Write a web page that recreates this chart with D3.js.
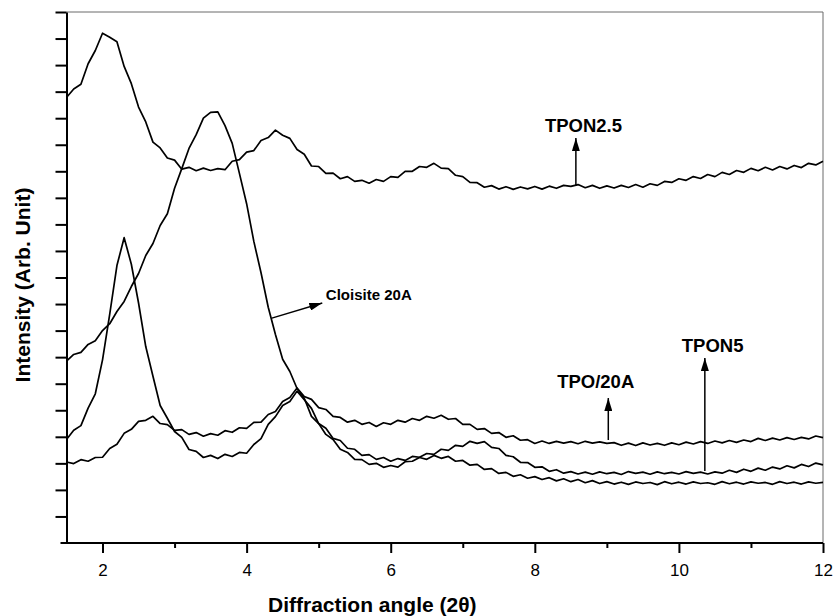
<!DOCTYPE html>
<html>
<head>
<meta charset="utf-8">
<script src="https://cdn.jsdelivr.net/npm/d3@7"></script>
<style>
  body { margin: 0; background: #fff; }
  svg { display: block; font-family: Arial, "Liberation Sans", sans-serif; }
</style>
</head>
<body>
<div id="chart"></div>
<script>
// diffraction angle 2theta (shared by all scans)
const angles = [
  1.5, 1.6, 1.7, 1.8, 1.9, 2.0, 2.1, 2.2, 2.3, 2.4,
  2.5, 2.6, 2.7, 2.8, 2.9, 3.0, 3.1, 3.2, 3.3, 3.4,
  3.5, 3.6, 3.7, 3.8, 3.9, 4.0, 4.1, 4.2, 4.3, 4.4,
  4.5, 4.6, 4.7, 4.8, 4.9, 5.0, 5.1, 5.2, 5.3, 5.4,
  5.5, 5.6, 5.7, 5.8, 5.9, 6.0, 6.1, 6.2, 6.3, 6.4,
  6.5, 6.6, 6.7, 6.8, 6.9, 7.0, 7.1, 7.2, 7.3, 7.4,
  7.5, 7.6, 7.7, 7.8, 7.9, 8.0, 8.1, 8.2, 8.3, 8.4,
  8.5, 8.6, 8.7, 8.8, 8.9, 9.0, 9.1, 9.2, 9.3, 9.4,
  9.5, 9.6, 9.7, 9.8, 9.9, 10.0, 10.1, 10.2, 10.3, 10.4,
  10.5, 10.6, 10.7, 10.8, 10.9, 11.0, 11.1, 11.2, 11.3, 11.4,
  11.5, 11.6, 11.7, 11.8, 11.9, 12.0
];

// intensities (arb. unit, stacked as in the figure)
const tpon25 = [
  16.78, 17.10, 17.28, 18.05, 18.55, 19.20, 19.05, 18.88, 17.95, 17.30,
  16.42, 15.86, 15.10, 14.88, 14.50, 14.42, 14.08, 14.15, 14.02, 14.12,
  14.03, 14.10, 14.06, 14.38, 14.44, 14.72, 14.78, 15.16, 15.27, 15.55,
  15.36, 15.24, 14.82, 14.64, 14.20, 14.18, 13.92, 13.93, 13.72, 13.80,
  13.62, 13.66, 13.55, 13.69, 13.62, 13.80, 13.77, 14.00, 14.00, 14.18,
  14.15, 14.30, 14.12, 14.10, 13.85, 13.80, 13.58, 13.57, 13.40, 13.46,
  13.33, 13.42, 13.32, 13.41, 13.34, 13.43, 13.33, 13.44, 13.36, 13.47,
  13.43, 13.50, 13.38, 13.47, 13.36, 13.45, 13.37, 13.47, 13.39, 13.50,
  13.40, 13.53, 13.47, 13.62, 13.58, 13.72, 13.66, 13.80, 13.73, 13.88,
  13.80, 13.96, 13.88, 14.03, 13.96, 14.11, 14.02, 14.15, 14.05, 14.18,
  14.09, 14.22, 14.14, 14.30, 14.24, 14.38
];

const cloisite20a = [
  6.85, 7.10, 7.18, 7.48, 7.62, 8.00, 8.26, 8.72, 9.10, 9.66,
  10.15, 10.83, 11.28, 11.96, 12.40, 13.36, 14.10, 14.86, 15.38, 16.00,
  16.22, 16.24, 15.72, 15.05, 13.92, 12.78, 11.36, 10.18, 8.88, 7.85,
  6.92, 6.46, 5.82, 5.45, 4.77, 4.50, 4.09, 3.90, 3.53, 3.41,
  3.15, 3.14, 2.96, 3.00, 2.85, 2.92, 2.86, 3.06, 3.08, 3.22,
  3.15, 3.30, 3.19, 3.26, 3.08, 3.11, 2.93, 2.96, 2.77, 2.80,
  2.62, 2.66, 2.51, 2.57, 2.44, 2.50, 2.39, 2.46, 2.34, 2.42,
  2.31, 2.39, 2.27, 2.35, 2.24, 2.31, 2.22, 2.29, 2.21, 2.30,
  2.24, 2.28, 2.20, 2.31, 2.23, 2.29, 2.22, 2.30, 2.24, 2.27,
  2.21, 2.31, 2.23, 2.29, 2.22, 2.30, 2.25, 2.28, 2.21, 2.31,
  2.24, 2.29, 2.22, 2.30, 2.25, 2.28
];

const tpon5 = [
  3.90, 4.25, 4.42, 5.08, 5.62, 6.90, 8.62, 10.45, 11.50, 10.50,
  9.04, 7.40, 6.28, 5.18, 4.70, 4.20, 3.98, 3.52, 3.45, 3.22,
  3.30, 3.18, 3.34, 3.26, 3.41, 3.38, 3.71, 3.93, 4.47, 4.76,
  5.18, 5.33, 5.72, 5.40, 5.07, 4.50, 4.32, 3.94, 3.86, 3.57,
  3.53, 3.30, 3.33, 3.15, 3.22, 3.08, 3.18, 3.11, 3.26, 3.23,
  3.37, 3.34, 3.53, 3.49, 3.68, 3.64, 3.83, 3.75, 3.82, 3.60,
  3.56, 3.30, 3.25, 3.04, 3.03, 2.85, 2.87, 2.70, 2.76, 2.63,
  2.69, 2.60, 2.67, 2.59, 2.68, 2.61, 2.66, 2.58, 2.69, 2.62,
  2.67, 2.59, 2.68, 2.61, 2.66, 2.60, 2.69, 2.62, 2.67, 2.60,
  2.68, 2.63, 2.74, 2.66, 2.78, 2.70, 2.82, 2.74, 2.86, 2.79,
  2.91, 2.83, 2.96, 2.88, 3.01, 2.94
];

const tpo20a = [
  3.05, 2.99, 3.14, 3.08, 3.22, 3.23, 3.56, 3.72, 4.13, 4.28,
  4.58, 4.62, 4.77, 4.50, 4.46, 4.24, 4.27, 4.09, 4.16, 4.02,
  4.12, 4.06, 4.23, 4.17, 4.34, 4.32, 4.54, 4.55, 4.84, 4.95,
  5.33, 5.48, 5.84, 5.52, 5.41, 5.10, 5.03, 4.77, 4.73, 4.55,
  4.62, 4.47, 4.54, 4.39, 4.53, 4.47, 4.62, 4.55, 4.69, 4.62,
  4.77, 4.70, 4.81, 4.66, 4.69, 4.47, 4.47, 4.28, 4.31, 4.13,
  4.16, 3.98, 4.04, 3.87, 3.89, 3.75, 3.84, 3.75, 3.83, 3.76,
  3.82, 3.74, 3.83, 3.76, 3.81, 3.75, 3.78, 3.68, 3.76, 3.67,
  3.77, 3.69, 3.75, 3.68, 3.77, 3.70, 3.80, 3.73, 3.82, 3.75,
  3.84, 3.77, 3.86, 3.79, 3.88, 3.82, 3.94, 3.86, 3.95, 3.88,
  3.97, 3.90, 3.98, 3.92, 4.03, 3.97
];

const xMajorTicks = [2, 4, 6, 8, 10, 12];
const xMinorTicks = [3, 5, 7, 9, 11];
const yTicks = [1, 2, 3, 4, 5, 6, 7, 8, 9, 10, 11, 12, 13, 14, 15, 16, 17, 18, 19, 20];

const W = 837, H = 616;
const plotLeft = 66.5, plotRight = 823, plotTop = 12, plotBottom = 543;

const svg = d3.select("#chart").append("svg")
    .attr("width", W)
    .attr("height", H);

const x = d3.scaleLinear().domain([1.5, 12]).range([plotLeft, plotRight]);
const y = d3.scaleLinear().domain([0, 20]).range([plotBottom, plotTop]);

// thin frame on top and right
svg.append("line").attr("x1", plotLeft).attr("x2", plotRight).attr("y1", plotTop).attr("y2", plotTop)
    .attr("stroke", "#6a6a6a").attr("stroke-width", 1);
svg.append("line").attr("x1", plotRight).attr("x2", plotRight).attr("y1", plotTop).attr("y2", plotBottom)
    .attr("stroke", "#6a6a6a").attr("stroke-width", 1);

// scans
const line = d3.line()
    .x(function (d) { return x(d[0]); })
    .y(function (d) { return y(d[1]); });

[tpon25, cloisite20a, tpon5, tpo20a].forEach(function (vals) {
    svg.append("path")
        .attr("d", line(angles.map(function (a, i) { return [a, vals[i]]; })))
        .attr("fill", "none")
        .attr("stroke", "#000")
        .attr("stroke-width", 1.7)
        .attr("stroke-linejoin", "round");
});

// axes
const axisBottom = d3.axisBottom(x)
    .tickValues(xMajorTicks)
    .tickSize(10)
    .tickSizeOuter(0)
    .tickPadding(11)
    .tickFormat(d3.format("d"));
const gx = svg.append("g")
    .attr("transform", "translate(0," + plotBottom + ")")
    .call(axisBottom);
gx.select(".domain").attr("stroke-width", 2).attr("d", "M" + (plotLeft - 6) + ",0H" + plotRight);
gx.selectAll(".tick line").attr("stroke-width", 2);
gx.selectAll(".tick text")
    .attr("font-size", 17)
    .attr("font-family", "Arial, 'Liberation Sans', sans-serif");

const gxMinor = svg.append("g")
    .attr("transform", "translate(0," + plotBottom + ")")
    .call(d3.axisBottom(x).tickValues(xMinorTicks).tickSize(5).tickSizeOuter(0).tickFormat(""));
gxMinor.select(".domain").remove();
gxMinor.selectAll(".tick line").attr("stroke-width", 2);

const gy = svg.append("g")
    .attr("transform", "translate(" + plotLeft + ",0)")
    .call(d3.axisLeft(y).tickValues(yTicks).tickSize(11).tickSizeOuter(0).tickFormat(""));
gy.select(".domain").attr("stroke-width", 2);
gy.selectAll(".tick line").attr("stroke-width", 2);

// axis titles
svg.append("text")
    .attr("x", 268).attr("y", 612)
    .attr("font-size", 21).attr("font-weight", "bold")
    .text("Diffraction angle (2θ)");
svg.append("text")
    .attr("transform", "translate(30,285) rotate(-90)")
    .attr("text-anchor", "middle")
    .attr("font-size", 21).attr("font-weight", "bold")
    .text("Intensity (Arb. Unit)");

// arrows and labels
const defs = svg.append("defs");
defs.append("marker")
    .attr("id", "head")
    .attr("markerUnits", "userSpaceOnUse")
    .attr("viewBox", "0 0 13 8")
    .attr("markerWidth", 13).attr("markerHeight", 8)
    .attr("refX", 13).attr("refY", 4)
    .attr("orient", "auto")
    .append("path").attr("d", "M0,0L13,4L0,8Z").attr("fill", "#000");

const notes = [
    { text: "TPON2.5", size: 18.5, tx: 8.14, ty: 15.48, x1: 8.57, y1: 13.45, x2: 8.57, y2: 15.25 },
    { text: "Cloisite 20A", size: 15, tx: 5.1, ty: 9.15, x1: 4.35, y1: 8.47, x2: 5.05, y2: 9.04 },
    { text: "TPO/20A", size: 18.5, tx: 8.31, ty: 5.84, x1: 9.02, y1: 3.88, x2: 9.02, y2: 5.46 },
    { text: "TPON5", size: 18.5, tx: 10.04, ty: 7.19, x1: 10.36, y1: 2.71, x2: 10.36, y2: 6.97 }
];
notes.forEach(function (n) {
    svg.append("line")
        .attr("x1", x(n.x1)).attr("y1", y(n.y1))
        .attr("x2", x(n.x2)).attr("y2", y(n.y2))
        .attr("stroke", "#000").attr("stroke-width", 1.5)
        .attr("marker-end", "url(#head)");
    svg.append("text")
        .attr("x", x(n.tx)).attr("y", y(n.ty))
        .attr("font-size", n.size).attr("font-weight", "bold")
        .text(n.text);
});
</script>
</body>
</html>
